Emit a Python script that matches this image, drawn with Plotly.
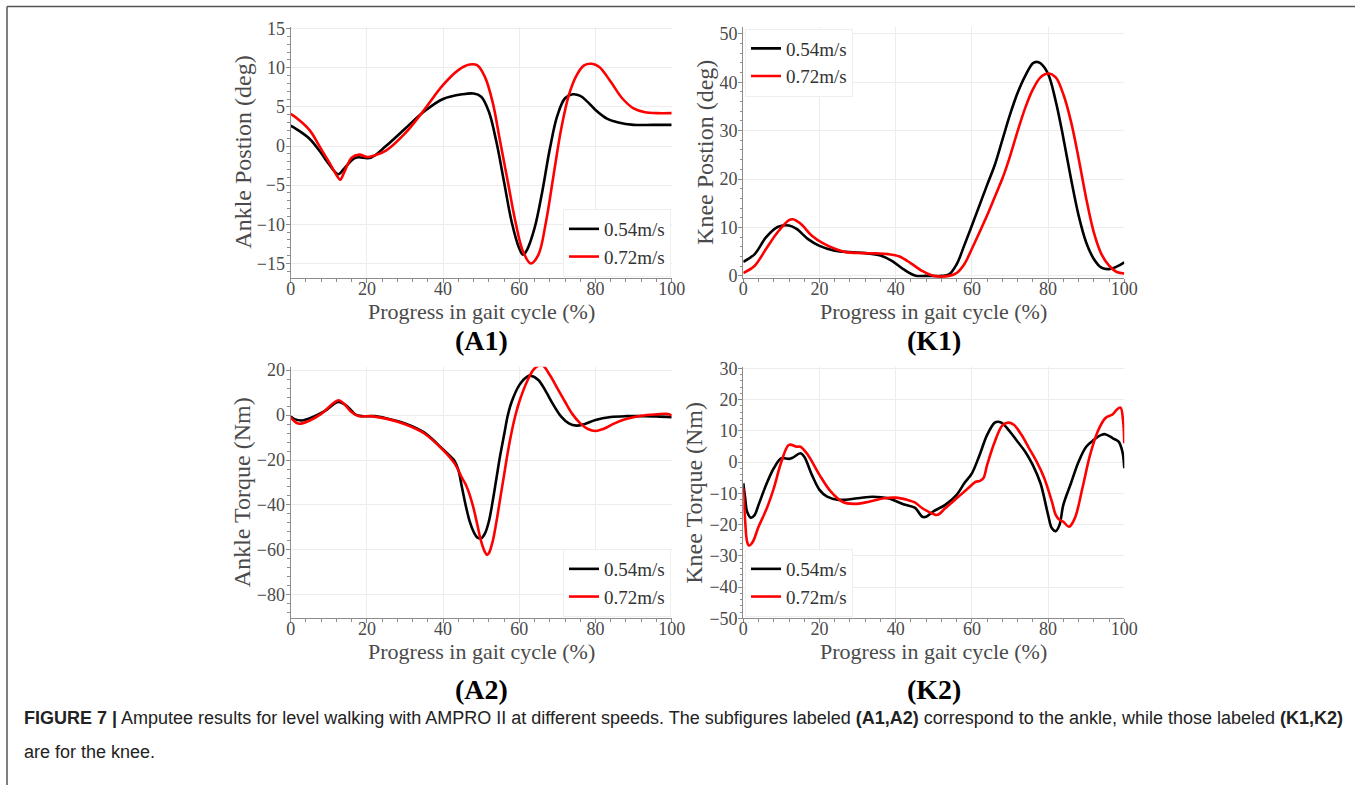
import plotly.graph_objects as go

W, H = 1355, 785

# ---------------- data ----------------
speeds = ["0.54m/s", "0.72m/s"]

# (A1) Ankle position (deg)
a1_x_054 = [0, 2, 5, 7.7, 10, 12.5, 14, 17, 21, 25, 30, 35, 40, 45, 48, 50, 52, 54, 56, 58, 60, 61, 62, 64, 66, 68, 70, 72, 74, 76, 78, 80, 83, 86, 90, 95, 100]
a1_y_054 = [2.6, 2.0, 0.9, -0.7, -2.3, -3.6, -2.9, -1.5, -1.5, 0.0, 2.2, 4.4, 6.0, 6.6, 6.7, 6.3, 4.4, 0.5, -4.6, -9.7, -13.1, -13.9, -13.3, -10.5, -5.9, -0.4, 3.9, 6.1, 6.6, 6.4, 5.6, 4.6, 3.5, 3.0, 2.7, 2.7, 2.7]
a1_x_072 = [0, 2, 5, 8, 10, 12, 13, 14, 16, 18, 20, 22, 25, 30, 35, 40, 44, 47, 49, 51, 53, 55, 57, 59, 61, 63, 65, 67, 69, 71, 73, 75, 77, 79, 81, 84, 87, 90, 93, 96, 100]
a1_y_072 = [4.1, 3.4, 2.0, -0.4, -2.0, -3.7, -4.3, -3.4, -1.5, -1.1, -1.4, -1.2, -0.6, 1.6, 4.6, 7.8, 9.7, 10.4, 10.3, 8.8, 5.6, 0.5, -4.6, -9.7, -13.5, -15.0, -13.9, -9.7, -3.7, 2.2, 6.5, 9.0, 10.3, 10.5, 10.1, 8.2, 6.1, 4.8, 4.3, 4.2, 4.2]

# (K1) Knee position (deg)
k1_x_054 = [0, 3, 6, 9, 12, 14, 17, 20, 24, 28, 32, 36, 39, 42, 45, 48, 52, 54, 56, 58, 60, 62, 64, 66, 68, 70, 72, 74, 76, 77, 78, 80, 82, 84, 86, 88, 90, 92, 94, 96, 98, 100]
k1_y_054 = [2.9, 4.5, 8.0, 10.1, 10.4, 9.7, 7.6, 6.2, 5.2, 4.9, 4.7, 4.2, 3.1, 1.4, 0.1, 0.0, 0.0, 0.3, 2.4, 6.3, 10.4, 14.6, 18.8, 22.9, 28.1, 33.3, 37.8, 41.3, 43.9, 44.2, 43.9, 41.7, 36.1, 28.5, 20.1, 12.5, 6.9, 3.5, 1.7, 1.4, 1.9, 2.8]
k1_x_072 = [0, 3, 6, 9, 12, 13, 15, 18, 21, 24, 27, 31, 35, 38, 41, 44, 47, 50, 54, 56, 58, 60, 62, 64, 66, 68, 70, 72, 74, 76, 78, 80, 82, 84, 86, 88, 90, 92, 94, 96, 98, 100]
k1_y_072 = [0.6, 2.1, 5.6, 9.0, 11.5, 11.7, 10.8, 8.3, 6.7, 5.6, 4.9, 4.7, 4.65, 4.5, 4.0, 2.6, 1.0, 0.0, 0.0, 0.6, 2.4, 5.6, 9.0, 12.5, 16.3, 20.1, 24.7, 29.9, 34.7, 38.5, 41.0, 41.8, 41.0, 37.5, 31.9, 24.3, 16.0, 9.0, 4.5, 2.1, 0.8, 0.5]

# (A2) Ankle torque (Nm)
a2_x_054 = [0, 1, 3, 6, 9, 12.5, 15, 17, 19, 22, 25, 30, 35, 40, 42, 43, 44, 45, 46, 47, 48, 49, 50, 51, 52, 53, 54, 55, 56, 57, 58, 60, 62, 63, 65, 67, 69, 71, 73, 75, 77, 80, 84, 88, 92, 96, 100]
a2_y_054 = [-0.7, -1.8, -2.4, -0.7, 1.8, 5.8, 3.6, 0.2, -0.5, -0.5, -1.4, -3.7, -7.7, -15.3, -18.5, -20.4, -24.4, -32.6, -40.7, -47.4, -51.9, -54.5, -54.8, -52.6, -47.4, -38.5, -28.1, -17.8, -8.9, 0.0, 5.9, 13.3, 17.0, 17.5, 15.6, 10.4, 4.4, -0.7, -3.7, -4.7, -4.1, -2.2, -0.9, -0.5, -0.5, -0.6, -1.0]
a2_x_072 = [0, 2, 5, 8, 11, 12.5, 14, 16, 18, 21, 25, 30, 35, 40, 43, 45, 46, 47, 48, 49, 50, 51, 51.5, 52, 53, 54, 55, 56, 57, 58, 59, 60, 62, 64, 66, 68, 70, 72, 74, 76, 78, 80, 82, 85, 88, 92, 96, 99, 100]
a2_y_072 = [-1.0, -3.8, -2.4, 0.5, 5.0, 6.6, 5.0, 1.2, -0.5, -0.5, -1.6, -4.1, -8.1, -15.6, -21.5, -28.1, -31.1, -35.6, -41.5, -48.9, -56.3, -61.0, -62.2, -61.5, -56.3, -47.4, -37.0, -26.7, -16.3, -7.4, 0.0, 5.9, 14.8, 20.7, 22.2, 17.8, 11.9, 5.9, 0.3, -3.7, -6.2, -7.1, -6.2, -3.7, -1.8, -0.3, 0.3, 0.5, -0.3]

# (K2) Knee torque (Nm)
k2_x_054 = [0, 0.5, 1, 2, 3, 4, 6, 8, 10, 12, 13, 15, 16, 18, 20, 22, 25, 30, 34, 38, 42, 45, 47, 48, 50, 53, 56, 58, 60, 62, 64, 66, 67, 68, 70, 72, 74, 76, 78, 80, 81, 82, 83, 84, 86, 88, 90, 92, 94, 95, 97, 98.5, 99.5, 100]
k2_y_054 = [-6.8, -11.6, -15.9, -17.8, -16.9, -13.7, -7.3, -2.0, 1.2, 1.0, 1.4, 2.8, 1.7, -4.1, -8.9, -11.1, -12.1, -11.6, -11.1, -11.6, -13.5, -14.6, -17.5, -17.5, -15.7, -13.7, -10.5, -6.8, -3.6, 2.2, 8.7, 12.6, 12.9, 12.4, 9.7, 6.5, 3.3, -1.0, -6.8, -16.9, -21.2, -22.1, -20.1, -13.7, -6.8, 0.1, 4.9, 7.1, 8.7, 8.9, 7.6, 6.5, 3.3, -2.0]
k2_x_072 = [0, 0.5, 1, 1.5, 2.5, 4, 6, 8, 10, 12, 14, 15, 17, 20, 23, 26, 29, 33, 37, 40, 43, 45, 47, 50, 51, 53, 56, 59, 61, 62, 63, 64, 66, 68, 69.5, 71, 73, 75, 77, 79, 81, 82, 83, 84, 85.5, 87, 89, 91, 93, 95, 97, 98, 99, 99.7, 100]
k2_y_072 = [-8.4, -19.1, -25.5, -26.7, -25.5, -20.7, -15.3, -8.4, 0.1, 5.5, 4.9, 4.9, 2.2, -4.1, -9.5, -12.7, -13.4, -12.7, -11.6, -11.4, -12.1, -12.9, -14.8, -16.7, -16.9, -14.8, -11.6, -8.4, -6.3, -6.1, -5.2, -0.9, 6.5, 11.7, 12.6, 11.9, 8.7, 4.4, 0.1, -5.2, -12.7, -16.9, -18.5, -19.1, -20.7, -18.0, -8.4, 2.2, 9.7, 14.0, 15.3, 16.7, 17.4, 12.9, 6.0]

panel_labels = ["(A1)", "(K1)", "(A2)", "(K2)"]
y_titles = ["Ankle Postion (deg)", "Knee Postion (deg)", "Ankle Torque (Nm)", "Knee Torque (Nm)"]
x_title = "Progress in gait cycle (%)"
caption_line1 = ("<b>FIGURE 7 |</b> Amputee results for level walking with AMPRO II at different speeds. "
                 "The subfigures labeled <b>(A1,A2)</b> correspond to the ankle, while those labeled <b>(K1,K2)</b>")
caption_line2 = "are for the knee."

# ---------------- styling ----------------
colors = ["#000000", "#ff0000"]
SERIF = "Liberation Serif"
SANS = "Liberation Sans"
TXT = "#4a4a4a"


def py(p):
    return 1 - p / H


col_px = [[290.7, 671.7], [743.3, 1124.3]]
row_px = [[27.0, 278.3], [366.7, 618.3]]
col_dom = [[a / W, b / W] for a, b in col_px]
row_dom = [[py(b), py(a)] for a, b in row_px]

y_ranges = [[-16.9, 15.2], [-0.5, 51.4], [-90.4, 21.5], [-50, 30.5]]
y_dticks = [5, 10, 20, 10]
y_minor = [1, 2, 4, 2]
ytitle_off = [47.7, 39.0, 49.0, 50.0]

series = [
    (a1_x_054, a1_y_054, a1_x_072, a1_y_072),
    (k1_x_054, k1_y_054, k1_x_072, k1_y_072),
    (a2_x_054, a2_y_054, a2_x_072, a2_y_072),
    (k2_x_054, k2_y_054, k2_x_072, k2_y_072),
]

fig = go.Figure()

legend_pos = [
    dict(x=671.0 / W, y=py(277.0), xanchor="right", yanchor="bottom"),
    dict(x=745.0 / W, y=py(28.5), xanchor="left", yanchor="top"),
    dict(x=671.0 / W, y=py(617.0), xanchor="right", yanchor="bottom"),
    dict(x=745.0 / W, y=py(617.0), xanchor="left", yanchor="bottom"),
]

layout = dict(
    template="none",
    width=W, height=H, autosize=False,
    margin=dict(l=0, r=0, t=0, b=0, pad=0, autoexpand=False),
    paper_bgcolor="white", plot_bgcolor="white",
    showlegend=True,
)

annotations = []
for i in range(4):
    r, c = divmod(i, 2)
    xs = "x" if i == 0 else f"x{i+1}"
    ys = "y" if i == 0 else f"y{i+1}"
    lg = "legend" if i == 0 else f"legend{i+1}"
    xa_name = "xaxis" if i == 0 else f"xaxis{i+1}"
    ya_name = "yaxis" if i == 0 else f"yaxis{i+1}"
    x0, y0, x1, y1 = series[i]
    for (xv, yv, name, col) in [(x0, y0, speeds[0], colors[0]), (x1, y1, speeds[1], colors[1])]:
        fig.add_trace(go.Scatter(
            x=xv, y=yv, mode="lines", name=name,
            line=dict(color=col, width=2.6, shape="spline", smoothing=1.0),
            xaxis=xs, yaxis=ys, legend=lg,
        ))
    common = dict(
        showline=True, linecolor="#8c8c8c", linewidth=1.2, mirror=False,
        ticks="outside", ticklen=4, tickcolor="#8c8c8c", tickwidth=1,
        showgrid=True, gridcolor="#ececec", gridwidth=1, zeroline=False,
        automargin=False,
        tickfont=dict(family=SERIF, size=18, color=TXT),
    )
    layout[xa_name] = dict(
        common, domain=col_dom[c], range=[0, 100], dtick=20, tick0=0,
        anchor=ys, ticklabelstandoff=-10,
        minor=dict(ticks="outside", ticklen=2.5, dtick=4, tickcolor="#8c8c8c", showgrid=False),
    )
    layout[ya_name] = dict(
        common, domain=row_dom[r], range=y_ranges[i], dtick=y_dticks[i],
        anchor=xs, ticklabelstandoff=-3,
        minor=dict(ticks="outside", ticklen=2.5, dtick=y_minor[i], tickcolor="#8c8c8c", showgrid=False),
    )
    layout[lg] = dict(
        legend_pos[i],
        bgcolor="white", bordercolor="#efefef", borderwidth=1,
        font=dict(family=SERIF, size=19, color="#333333"),
        itemwidth=30, tracegroupgap=0, traceorder="normal",
    )
    xc = (col_px[c][0] + col_px[c][1]) / 2
    yc = (row_px[r][0] + row_px[r][1]) / 2
    # x-axis title
    annotations.append(dict(
        text=x_title, xref="paper", yref="paper",
        x=xc / W, y=py(row_px[r][1] + 33.5),
        xanchor="center", yanchor="middle", showarrow=False,
        font=dict(family=SERIF, size=22, color=TXT),
    ))
    # y-axis title
    annotations.append(dict(
        text=y_titles[i], xref="paper", yref="paper", textangle=-90,
        x=(col_px[c][0] - ytitle_off[i]) / W, y=py(yc),
        xanchor="center", yanchor="middle", showarrow=False,
        font=dict(family=SERIF, size=24, color=TXT),
    ))
    # panel label
    annotations.append(dict(
        text=f"<b>{panel_labels[i]}</b>", xref="paper", yref="paper",
        x=xc / W, y=py(340 if r == 0 else 689),
        xanchor="center", yanchor="middle", showarrow=False,
        font=dict(family=SERIF, size=28, color="#000000"),
    ))

annotations.append(dict(
    text=caption_line1, xref="paper", yref="paper", x=22 / W, y=py(718),
    xanchor="left", yanchor="middle", showarrow=False, align="left",
    font=dict(family=SANS, size=18, color="#222222"),
))
annotations.append(dict(
    text=caption_line2, xref="paper", yref="paper", x=22 / W, y=py(752),
    xanchor="left", yanchor="middle", showarrow=False, align="left",
    font=dict(family=SANS, size=18, color="#222222"),
))
layout["annotations"] = annotations

layout["shapes"] = [
    dict(type="line", xref="paper", yref="paper", x0=7 / W, x1=1, y0=py(6.5), y1=py(6.5),
         line=dict(color="#555555", width=1.5)),
    dict(type="line", xref="paper", yref="paper", x0=7 / W, x1=7 / W, y0=0, y1=py(6.5),
         line=dict(color="#555555", width=1.5)),
]

fig.update_layout(**layout)
fig.write_html("out.html")
